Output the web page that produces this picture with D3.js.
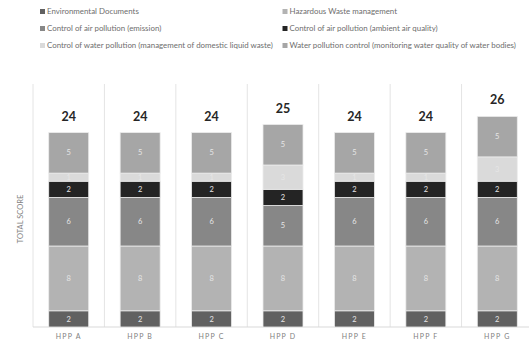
<!DOCTYPE html>
<html>
<head>
<meta charset="utf-8">
<script src="https://cdn.jsdelivr.net/npm/d3@7"></script>
<style>
  body { margin: 0; background: #fff; }
  svg { display: block; font-family: Lato, "Open Sans", sans-serif; }
</style>
</head>
<body>
<svg id="chart"></svg>
<script>
const width = 529, height = 343;

const plants = ["HPP A", "HPP B", "HPP C", "HPP D", "HPP E", "HPP F", "HPP G"];
const seriesNames = [
    "Environmental Documents",
    "Hazardous Waste management",
    "Control of air pollution (emission)",
    "Control of air pollution (ambient air quality)",
    "Control of water pollution (management of domestic liquid waste)",
    "Water pollution control (monitoring water quality of water bodies)"
];
const envDocs      = [2, 2, 2, 2, 2, 2, 2];
const hazWaste     = [8, 8, 8, 8, 8, 8, 8];
const airEmission  = [6, 6, 6, 5, 6, 6, 6];
const airAmbient   = [2, 2, 2, 2, 2, 2, 2];
const waterDomestic = [1, 1, 1, 3, 1, 1, 3];
const waterMonitor = [5, 5, 5, 5, 5, 5, 5];
const seriesColors = ["#616161", "#b3b3b3", "#878787", "#242424", "#dadada", "#a6a6a6"];

const seriesValues = [envDocs, hazWaste, airEmission, airAmbient, waterDomestic, waterMonitor];
const rows = plants.map((p, i) => {
    const r = { plant: p };
    seriesNames.forEach((s, k) => r[s] = seriesValues[k][i]);
    return r;
});
const totals = plants.map((p, i) => d3.sum(seriesValues, v => v[i]));

const margin = { top: 84, right: -4, bottom: 16, left: 33 };
const svg = d3.select("#chart").attr("width", width).attr("height", height);

const x = d3.scaleBand().domain(plants)
    .range([margin.left, width - margin.right])
    .paddingInner(0).paddingOuter(0);
const barW = 40;
const y = d3.scaleLinear().domain([0, 30]).range([height - margin.bottom, margin.top]);

// vertical separators
const bounds = plants.map(p => x(p)).concat([x(plants[plants.length - 1]) + x.bandwidth()]);
svg.append("g").selectAll("line").data(bounds).enter().append("line")
    .attr("x1", d => d).attr("x2", d => d)
    .attr("y1", y(30)).attr("y2", y(0))
    .attr("stroke", "#e4e4e4").attr("stroke-width", 1);

svg.append("line")
    .attr("x1", margin.left).attr("x2", width)
    .attr("y1", y(0)).attr("y2", y(0))
    .attr("stroke", "#d9d9d9");

const stacked = d3.stack().keys(seriesNames)(rows);

const layers = svg.append("g").selectAll("g").data(stacked).enter().append("g")
    .attr("fill", (d, i) => seriesColors[i]);

layers.selectAll("rect").data(d => d).enter().append("rect")
    .attr("x", d => x(d.data.plant) + (x.bandwidth() - barW) / 2)
    .attr("width", barW)
    .attr("y", d => y(d[1]))
    .attr("height", d => y(d[0]) - y(d[1]))
    .attr("stroke", "#ececec")
    .attr("stroke-width", 0.8);

layers.selectAll("text").data(d => d).enter().append("text")
    .attr("x", d => x(d.data.plant) + x.bandwidth() / 2)
    .attr("y", d => (y(d[0]) + y(d[1])) / 2)
    .attr("dy", "0.35em")
    .attr("text-anchor", "middle")
    .attr("font-size", 7.5)
    .attr("fill", "#e6e6e6")
    .text(d => d[1] - d[0]);

// totals
svg.append("g").selectAll("text").data(plants).enter().append("text")
    .attr("x", d => x(d) + x.bandwidth() / 2)
    .attr("y", (d, i) => y(totals[i]) - 12)
    .attr("text-anchor", "middle")
    .attr("font-size", 12.5)
    .attr("font-weight", "bold")
    .attr("fill", "#262626")
    .text((d, i) => totals[i]);

// x labels
svg.append("g").selectAll("text").data(plants).enter().append("text")
    .attr("x", d => x(d) + x.bandwidth() / 2)
    .attr("y", y(0) + 12)
    .attr("text-anchor", "middle")
    .attr("font-size", 7)
    .attr("letter-spacing", "1.2px")
    .attr("fill", "#7f7f7f")
    .text(d => d);

// y title
svg.append("text")
    .attr("transform", "translate(23,219) rotate(-90)")
    .attr("text-anchor", "middle")
    .attr("font-size", 7.5)
    .attr("fill", "#7f7f7f")
    .text("TOTAL SCORE");

// legend
const legendX = [40, 282.5];
const legendY = [11.5, 28.5, 45.5];
const legend = svg.append("g").selectAll("g").data(seriesNames).enter().append("g")
    .attr("transform", (d, i) => `translate(${legendX[i % 2]},${legendY[Math.floor(i / 2)]})`);
legend.append("rect")
    .attr("x", 0).attr("y", -2.5).attr("width", 5).attr("height", 5)
    .attr("fill", (d, i) => seriesColors[i]);
legend.append("text")
    .attr("x", 7).attr("dy", "0.35em")
    .attr("font-size", 7.9)
    .attr("fill", "#6e6e6e")
    .text(d => d);
</script>
</body>
</html>
